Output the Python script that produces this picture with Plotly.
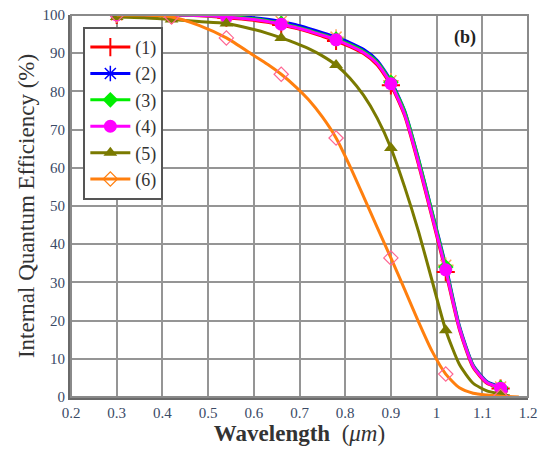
import plotly.graph_objects as go

# wavelength grids (um) for the smooth curves
wl = [0.30, 0.36, 0.42, 0.48, 0.54, 0.60, 0.63, 0.66, 0.69, 0.72, 0.75, 0.78, 0.81, 0.84, 0.87, 0.90, 0.93, 0.96, 0.99, 1.02, 1.05, 1.08, 1.11, 1.14, 1.155]
wl5 = [0.30, 0.36, 0.42, 0.48, 0.54, 0.60, 0.63, 0.66, 0.69, 0.72, 0.75, 0.78, 0.81, 0.84, 0.87, 0.90, 0.93, 0.96, 0.99, 1.02, 1.05, 1.08, 1.11, 1.14, 1.16]
wl6 = [0.30, 0.36, 0.42, 0.48, 0.54, 0.60, 0.63, 0.66, 0.69, 0.72, 0.75, 0.78, 0.81, 0.84, 0.87, 0.90, 0.93, 0.96, 0.99, 1.02, 1.05, 1.08, 1.11, 1.14, 1.18]

s1 = [100, 100, 100, 99.8, 99.3, 98.6, 98.1, 97.4, 96.6, 95.6, 94.4, 93.2, 91.7, 89.9, 86.9, 81.6, 73.6, 61.0, 47.0, 32.7, 17.6, 7.7, 3.6, 2.2, 1.2]
s2 = [100, 100, 100, 100, 99.8, 99.3, 98.9, 98.3, 97.5, 96.5, 95.4, 94.2, 92.8, 91.0, 88.1, 82.8, 75.0, 62.6, 48.6, 34.5, 18.6, 8.4, 4.1, 2.6, 1.6]
s3 = [100, 100, 100, 99.9, 99.6, 99.0, 98.5, 97.8, 97.0, 96.0, 94.9, 93.7, 92.3, 90.5, 87.7, 82.4, 74.8, 62.4, 48.4, 34.0, 18.3, 8.2, 3.9, 2.5, 1.5]
s4 = [100, 100, 100, 99.9, 99.5, 98.8, 98.3, 97.6, 96.8, 95.8, 94.7, 93.5, 92.0, 90.2, 87.3, 82.0, 74.0, 61.5, 47.5, 33.3, 18.0, 8.0, 3.8, 2.3, 1.3]
s5 = [99.5, 99.3, 98.8, 98.3, 97.8, 96.2, 95.2, 94.0, 92.7, 91.2, 89.3, 86.9, 83.5, 79.0, 73.0, 65.2, 55.0, 43.5, 30.5, 17.5, 8.5, 3.6, 1.6, 0.8, 0.3]
s6 = [100, 100, 99.5, 97.3, 94.0, 89.4, 87.1, 84.5, 81.4, 77.8, 73.3, 67.8, 60.5, 52.5, 44.4, 36.4, 28.2, 19.8, 12.0, 6.0, 2.4, 1.0, 0.5, 0.2, 0.0]

# wavelengths that carry a marker
mark_wl = [0.30, 0.42, 0.54, 0.66, 0.78, 0.90, 1.02, 1.14]

names = ["(1)", "(2)", "(3)", "(4)", "(5)", "(6)"]
x_ticks = [0.2, 0.3, 0.4, 0.5, 0.6, 0.7, 0.8, 0.9, 1.0, 1.1, 1.2]
x_tick_text = ["0.2", "0.3", "0.4", "0.5", "0.6", "0.7", "0.8", "0.9", "1", "1.1", "1.2"]
y_ticks = [0, 10, 20, 30, 40, 50, 60, 70, 80, 90, 100]

SERIF = "Liberation Serif, Times New Roman, serif"

series = [
    (wl, s1, "#ff0000", dict(symbol="cross-thin", size=13, line=dict(width=2, color="#ff0000"))),
    (wl, s2, "#0000ff", dict(symbol="asterisk-open", size=13, line=dict(width=1.5, color="#3030ff"))),
    (wl, s3, "#00ee00", dict(symbol="diamond", size=12, color="#00ee00")),
    (wl, s4, "#ff00ff", dict(symbol="circle", size=13, color="#ff00ff")),
    (wl5, s5, "#7a7a00", dict(symbol="triangle-up", size=12, color="#7a7a00")),
    (wl6, s6, "#ff7f0e", dict(symbol="diamond-open", size=11, line=dict(width=1.2, color="#ffa060"))),
]

fig = go.Figure()
for (xs, ys, col, mk), nm in zip(series, names):
    fig.add_trace(go.Scatter(x=xs, y=ys, mode="lines", line=dict(color=col, width=3, shape="spline", smoothing=0.6),
                             showlegend=False, hoverinfo="skip"))
    mx = [x for x in xs if any(abs(x - m) < 1e-9 for m in mark_wl)]
    my = [y for x, y in zip(xs, ys) if any(abs(x - m) < 1e-9 for m in mark_wl)]
    fig.add_trace(go.Scatter(x=mx, y=my, mode="markers", marker=mk, showlegend=False))
    fig.add_trace(go.Scatter(x=[None], y=[None], mode="lines+markers", name=nm,
                             line=dict(color=col, width=3), marker=mk))

fig.add_annotation(x=1.062, y=94.2, text="<b>(b)</b>", showarrow=False,
                   font=dict(family=SERIF, size=18, color="#222"))

axis_common = dict(showgrid=True, gridcolor="#959595", gridwidth=2, zeroline=False,
                   showline=True, linecolor="#6a6a6a", linewidth=3, mirror=False, ticks="",
                   tickfont=dict(family=SERIF, size=15, color="#3a4a66"))

fig.update_layout(
    width=544, height=460,
    margin=dict(l=71, r=16, t=15, b=63),
    paper_bgcolor="white", plot_bgcolor="white",
    font=dict(family=SERIF, color="#333"),
    xaxis=dict(range=[0.2, 1.2], tickvals=x_ticks, ticktext=x_tick_text, automargin=False,
               title=dict(text="<b>Wavelength</b>  (<i>μm</i>)", font=dict(family=SERIF, size=23, color="#333"), standoff=4),
               **axis_common),
    yaxis=dict(range=[0, 100], tickvals=y_ticks, automargin=False,
               title=dict(text="Internal Quantum Efficiency (%)", font=dict(family=SERIF, size=23, color="#333"), standoff=2),
               **axis_common),
    legend=dict(x=0.027, y=0.969, xanchor="left", yanchor="top", bgcolor="white",
                bordercolor="#555", borderwidth=2, tracegroupgap=0, itemwidth=40,
                font=dict(family=SERIF, size=18, color="#333")),
    shapes=[dict(type="rect", xref="paper", yref="paper", x0=0, y0=0, x1=1, y1=1,
                 line=dict(color="#8a8a8a", width=2), layer="above")],
)

fig.write_html("out.html")
